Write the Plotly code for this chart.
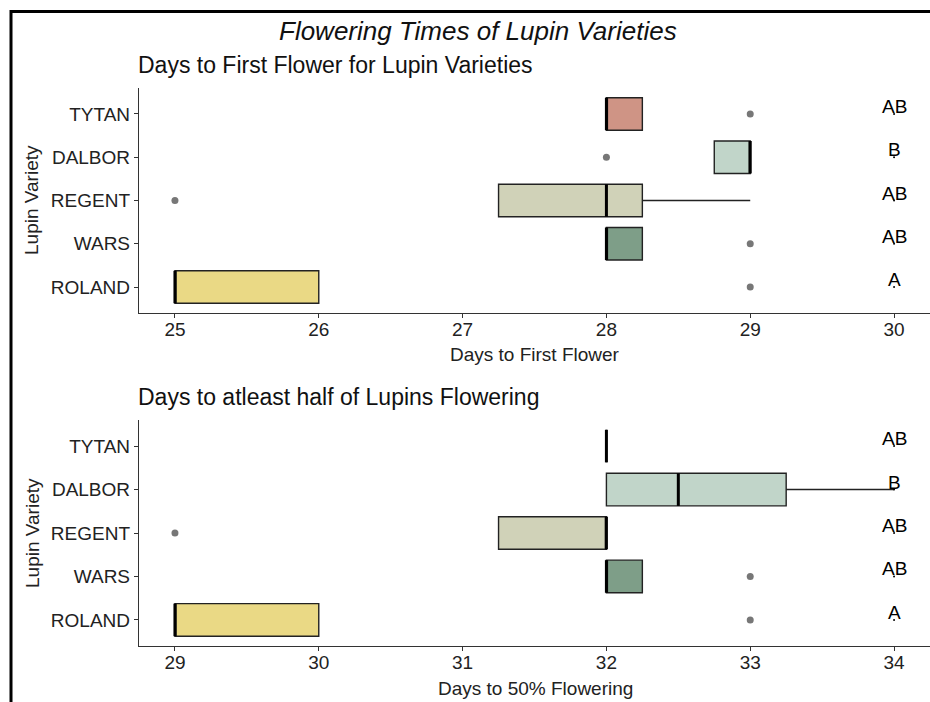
import plotly.graph_objects as go

# ---------------- data ----------------
varieties = ["ROLAND", "WARS", "REGENT", "DALBOR", "TYTAN"]
positions = [1, 2, 3, 4, 5]
colors = ["#EAD985", "#7E9E88", "#D0D2B8", "#C1D5C9", "#CF9485"]
letters = ["A", "AB", "AB", "B", "AB"]

# Days to first flower (top panel)
ff_lower = [25, 28, 27.25, 28.75, 28]
ff_q1 = [25, 28, 27.25, 28.75, 28]
ff_median = [25, 28, 28, 29, 28]
ff_q3 = [26, 28.25, 28.25, 29, 28.25]
ff_upper = [26, 28.25, 29, 29, 28.25]
ff_out_var = [1, 2, 3, 4, 5]
ff_out_val = [29, 29, 25, 28, 29]
ff_letter_x = 30
ff_ticks = [25, 26, 27, 28, 29, 30]

# Days to 50% flowering (bottom panel)
hf_lower = [29, 32, 31.25, 32, 32]
hf_q1 = [29, 32, 31.25, 32, 32]
hf_median = [29, 32, 32, 32.5, 32]
hf_q3 = [30, 32.25, 32, 33.25, 32]
hf_upper = [30, 32.25, 32, 34, 32]
hf_out_var = [1, 2, 3]
hf_out_val = [33, 33, 29]
hf_letter_x = 34
hf_ticks = [29, 30, 31, 32, 33, 34]

W, H = 930, 702
FONT = "Liberation Sans, Arial, sans-serif"
TXT = "#222222"
BOXW = 0.75

fig = go.Figure()


def add_panel(lower, q1, med, q3, upper, out_var, out_val, letter_x, xa, ya):
    for i in range(len(varieties)):
        fig.add_trace(go.Box(
            y=[positions[i]], q1=[q1[i]], median=[med[i]], q3=[q3[i]],
            lowerfence=[lower[i]], upperfence=[upper[i]],
            orientation="h", width=BOXW, whiskerwidth=0,
            fillcolor=colors[i], line=dict(color="#222222", width=1.4),
            boxpoints=False, showlegend=False, xaxis=xa, yaxis=ya,
            hoverinfo="skip"))
    # thick median lines
    mx, my = [], []
    for i in range(len(varieties)):
        mx += [med[i], med[i], None]
        my += [positions[i] - BOXW / 2, positions[i] + BOXW / 2, None]
    fig.add_trace(go.Scatter(x=mx, y=my, mode="lines",
                             line=dict(color="#000000", width=3),
                             showlegend=False, xaxis=xa, yaxis=ya, hoverinfo="skip"))
    # outliers
    fig.add_trace(go.Scatter(x=out_val, y=out_var, mode="markers",
                             marker=dict(color="#777777", size=7),
                             showlegend=False, xaxis=xa, yaxis=ya, cliponaxis=False))
    # small anchor dots for letters
    fig.add_trace(go.Scatter(x=[letter_x] * len(varieties), y=positions,
                             mode="markers", marker=dict(color="#000000", size=2),
                             showlegend=False, xaxis=xa, yaxis=ya, cliponaxis=False))
    # significance letters
    for i in range(len(varieties)):
        fig.add_annotation(x=letter_x, y=positions[i], xref=xa, yref=ya,
                           text=letters[i], showarrow=False,
                           xanchor="center", yanchor="bottom", yshift=-5,
                           font=dict(family=FONT, size=19, color="#000000"))


add_panel(ff_lower, ff_q1, ff_median, ff_q3, ff_upper, ff_out_var, ff_out_val,
          ff_letter_x, "x", "y")
add_panel(hf_lower, hf_q1, hf_median, hf_q3, hf_upper, hf_out_var, hf_out_val,
          hf_letter_x, "x2", "y2")

xdom = [139 / W, 1.0]
axis_common = dict(showline=True, linecolor="#333333", linewidth=1.3,
                   ticks="outside", ticklen=4, tickcolor="#333333", tickwidth=1.3,
                   showgrid=False, zeroline=False,
                   tickfont=dict(family=FONT, size=19, color=TXT))

fig.update_layout(
    width=W, height=H,
    margin=dict(l=0, r=0, t=0, b=0),
    paper_bgcolor="white", plot_bgcolor="white",
    font=dict(family=FONT, color=TXT),
    showlegend=False,
    xaxis=dict(domain=xdom, anchor="y", range=[24.75, 30.25],
               tickvals=ff_ticks, ticklabelstandoff=-5, **axis_common),
    yaxis=dict(domain=[1 - 313 / H, 1 - 88 / H], anchor="x", range=[0.4, 5.6],
               tickvals=positions, ticktext=varieties, **axis_common),
    xaxis2=dict(domain=xdom, anchor="y2", range=[28.75, 34.25],
                tickvals=hf_ticks, ticklabelstandoff=-5, **axis_common),
    yaxis2=dict(domain=[1 - 646 / H, 1 - 420 / H], anchor="x2", range=[0.4, 5.6],
                tickvals=positions, ticktext=varieties, **axis_common),
)


def ann(text, x, y, size, xanchor="center", angle=0, italic=False, color="#111111"):
    fig.add_annotation(text=text, x=x / W, y=1 - y / H, xref="paper", yref="paper",
                       showarrow=False, xanchor=xanchor, yanchor="middle",
                       textangle=angle,
                       font=dict(family=FONT, size=size, color=color,
                                 style="italic" if italic else "normal"))


ann("Flowering Times of Lupin Varieties", 478, 31, 26, italic=True)
ann("Days to First Flower for Lupin Varieties", 136, 65, 23, xanchor="left")
ann("Days to atleast half of Lupins Flowering", 136, 397, 23, xanchor="left")
ann("Days to First Flower", 535, 354, 19, color=TXT)
ann("Days to 50% Flowering", 535, 688, 19, color=TXT)
ann("Lupin Variety", 32, 200, 19, angle=-90, color=TXT)
ann("Lupin Variety", 32, 533, 19, angle=-90, color=TXT)

# outer frame (top and left edges visible in the crop)
fig.add_shape(type="line", xref="paper", yref="paper",
              x0=10 / W, x1=1.0, y0=1 - 11.5 / H, y1=1 - 11.5 / H,
              line=dict(color="black", width=3))
fig.add_shape(type="line", xref="paper", yref="paper",
              x0=11 / W, x1=11 / W, y0=0, y1=1 - 10 / H,
              line=dict(color="black", width=3))

fig.write_html("out.html")
